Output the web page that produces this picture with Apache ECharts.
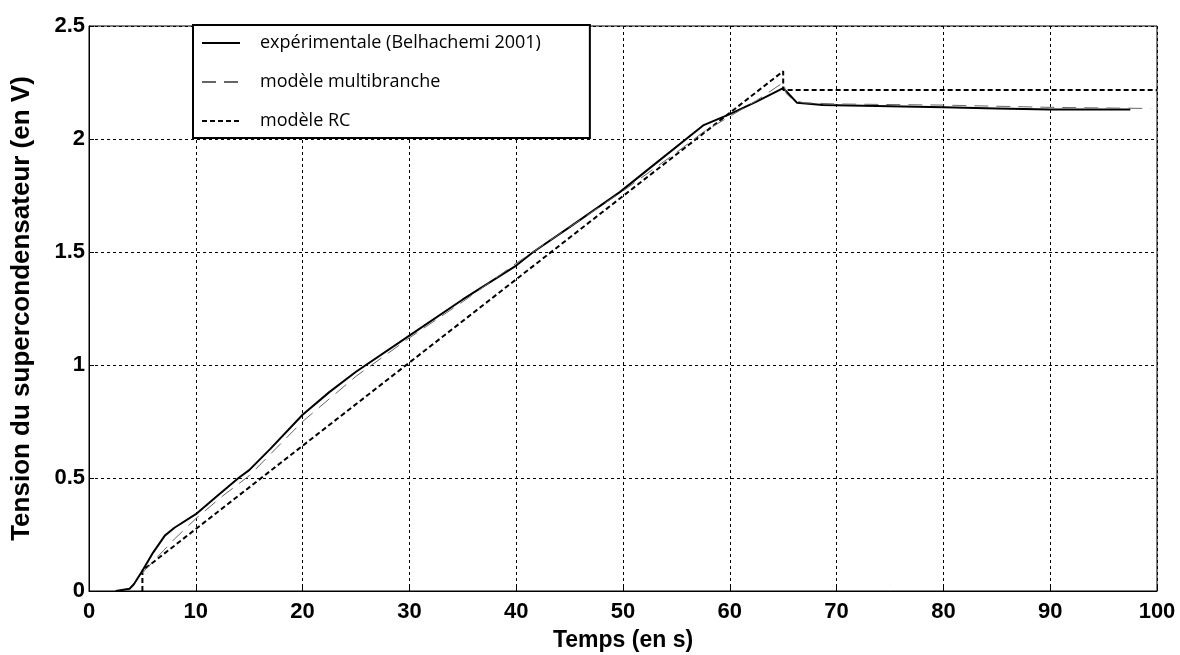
<!DOCTYPE html>
<html>
<head>
<meta charset="utf-8">
<script src="https://cdn.jsdelivr.net/npm/echarts@6/dist/echarts.min.js"></script>
<style>
  html, body { margin: 0; padding: 0; background: #fff; }
  #main { width: 1180px; height: 655px; }
</style>
</head>
<body>
<div id="main"></div>
<script>
// temps (s) / tension (V)
var expX = [2.5, 3.8, 4.2, 5, 6, 7.1, 8, 10, 12, 14, 15, 17, 20, 22.5, 25, 30, 35, 40, 41.6, 45, 49.7, 53, 57.5, 60, 62.5, 65, 65.5, 66.3, 68.7, 75, 80, 85, 90, 95, 97.5];
var expY = [0, 0.01, 0.03, 0.09, 0.17, 0.245, 0.28, 0.34, 0.42, 0.5, 0.535, 0.63, 0.78, 0.88, 0.97, 1.13, 1.29, 1.44, 1.5, 1.61, 1.765, 1.89, 2.06, 2.11, 2.165, 2.225, 2.2, 2.16, 2.15, 2.145, 2.14, 2.135, 2.13, 2.13, 2.13];

var mbX = [5, 6, 7, 8, 10, 12.5, 15, 17.5, 20, 25, 30, 35, 40, 45, 50, 55, 57.5, 60, 62.5, 65, 65.3, 66, 67, 70, 80, 90, 99.4];
var mbY = [0.08, 0.13, 0.18, 0.23, 0.32, 0.42, 0.51, 0.63, 0.75, 0.95, 1.12, 1.28, 1.45, 1.61, 1.77, 1.94, 2.03, 2.1, 2.17, 2.25, 2.2, 2.17, 2.16, 2.155, 2.15, 2.14, 2.135];

var rcX = [5, 5, 65, 65, 100];
var rcY = [0, 0.09, 2.30, 2.217, 2.217];

var seriesNames = ['expérimentale (Belhachemi 2001)', 'modèle multibranche', 'modèle RC'];

function pairs(xs, ys) {
    var out = [];
    for (var i = 0; i < xs.length; i++) out.push([xs[i], ys[i]]);
    return out;
}

var chart = echarts.init(document.getElementById('main'));
var tickFont = { color: '#000', fontFamily: 'Liberation Sans', fontWeight: 'bold', fontSize: 22 };
var gridLine = { show: true, lineStyle: { color: '#000', width: 1, type: [3, 3] } };

var option = {
    animation: false,
    backgroundColor: '#fff',
    grid: {
        left: 89, right: 23, top: 26, bottom: 64,
        outerBoundsMode: 'none',
        containLabel: false,
        show: true, borderColor: '#000', borderWidth: 1
    },
    legend: {
        orient: 'vertical',
        left: 193,
        top: 25,
        padding: [9, 49, 8, 8],
        itemWidth: 38,
        itemHeight: 14,
        itemGap: 21,
        itemStyle: { opacity: 0 },
        backgroundColor: '#fff',
        borderColor: '#000',
        borderWidth: 2,
        textStyle: { color: '#000', fontFamily: 'Open Sans', fontSize: 18, padding: [0, 0, 0, 15] },
        data: seriesNames
    },
    xAxis: {
        type: 'value',
        min: 0, max: 100, interval: 10,
        name: 'Temps (en s)',
        nameLocation: 'middle',
        nameGap: 38,
        nameTextStyle: { color: '#000', fontFamily: 'Liberation Sans', fontWeight: 'bold', fontSize: 23 },
        axisLine: { show: true, lineStyle: { color: '#000', width: 1 } },
        axisTick: { show: true, inside: true, length: 5, lineStyle: { color: '#000' } },
        axisLabel: Object.assign({ margin: 10 }, tickFont),
        splitLine: gridLine
    },
    yAxis: {
        type: 'value',
        min: 0, max: 2.5, interval: 0.5,
        name: 'Tension du supercondensateur (en V)',
        nameLocation: 'middle',
        nameGap: 54,
        nameTextStyle: { color: '#000', fontFamily: 'Liberation Sans', fontWeight: 'bold', fontSize: 26 },
        axisLine: { show: true, lineStyle: { color: '#000', width: 1 } },
        axisTick: { show: true, inside: true, length: 5, lineStyle: { color: '#000' } },
        axisLabel: Object.assign({ margin: 4 }, tickFont),
        splitLine: gridLine
    },
    series: [
        {
            name: seriesNames[0],
            type: 'line',
            symbol: 'none',
            data: pairs(expX, expY),
            lineStyle: { color: '#000', width: 2 },
            itemStyle: { color: '#000' },
            z: 3
        },
        {
            name: seriesNames[1],
            type: 'line',
            symbol: 'none',
            data: pairs(mbX, mbY),
            lineStyle: { color: '#666', width: 1, type: [14, 8] },
            itemStyle: { color: '#666' },
            z: 4
        },
        {
            name: seriesNames[2],
            type: 'line',
            symbol: 'none',
            data: pairs(rcX, rcY),
            lineStyle: { color: '#000', width: 2, type: [5, 3] },
            itemStyle: { color: '#000' },
            z: 3
        }
    ]
};
chart.setOption(option);
</script>
</body>
</html>
